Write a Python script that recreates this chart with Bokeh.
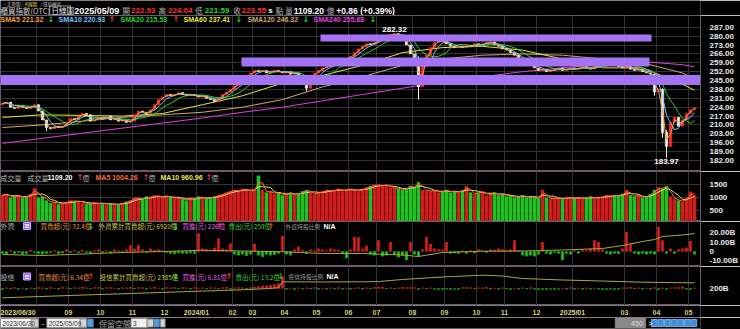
import numpy as np
from bokeh.plotting import figure
from bokeh.layouts import column
from bokeh.models import ColumnDataSource, Range1d, LinearAxis, FixedTicker, Grid
from bokeh.embed import file_html
from bokeh.resources import INLINE

# ======================= DATA =======================
last_date = "2025/05/09"
last_open, last_high, last_low, last_close = 222.93, 224.04, 221.59, 223.55
last_volume = 1109.20
change, change_pct = 0.86, 0.39

first_open = 226.0
close = [
    227, 228, 224, 223, 225.5, 224, 223, 224, 226, 221,
    214, 208, 207, 209, 208, 209, 212, 215, 214, 217,
    219, 218, 213, 214, 216, 215, 217, 214, 215, 213,
    214, 212, 213, 218, 221, 220, 219, 222, 226, 230,
    232, 234, 233, 234, 235.5, 234, 233, 234, 233, 232,
    233, 231, 230, 228.5, 231, 234, 236, 238, 241, 243,
    246, 248, 251, 253, 252, 253, 251, 252, 253, 252,
    251, 252, 250, 251, 249, 244, 239, 246, 251, 253,
    255, 256, 257, 259, 261, 262, 262.5, 264, 267, 270,
    272, 274, 273.5, 275, 278, 280, 281, 281, 282, 281,
    279, 273, 266, 262, 240, 258, 265, 271, 275, 276.5,
    276, 274, 272, 271, 272, 271, 273, 272, 274, 273,
    274, 275, 275.5, 273, 272, 270, 269, 267, 265, 262,
    260, 258, 257, 255, 253, 254, 252, 253, 254, 255,
    253, 254, 255, 254, 255, 256, 255, 254, 256, 257,
    258, 260, 260.5, 258, 256, 255, 256, 254, 253, 254,
    252, 251, 250, 236, 238, 204, 193, 212, 216, 209,
    214, 219, 222, 223.55,
]
# candles whose wicks reach beyond the body
hl_idx = [11, 76, 98, 104, 163, 165, 166]
hl_high = [209, 249, 282.32, 264, 250, 239, 206]
hl_low = [205, 236.5, 279.5, 230, 233, 200, 183.97]

volume = [
    1100, 1150, 1000, 1050, 1100, 1000, 1050, 1150, 1370,
    1000, 1050, 900, 800, 850, 750, 800, 820, 900, 850, 880, 800,
    750, 780, 820, 760, 800, 740, 780, 720, 760, 800, 850, 900,
    1000, 980, 950, 1050, 1000, 1100, 1050, 1000, 1080, 1020, 980, 1000, 950,
    900, 1000, 950, 1050, 1000, 980, 1000, 1050, 1100, 1150, 1200, 1250,
    1300, 1250, 1350, 1300, 1250, 1300, 1850,
    1300, 1200, 1250, 1150, 1200, 1100, 1150, 1200, 1100, 1150, 1250, 1300,
    1200, 1150, 1200, 1250, 1300, 1250,
    1300, 1350, 1250, 1300, 1350, 1300, 1250, 1350, 1400, 1450,
    1500, 1480, 1450, 1500, 1400, 1380,
    1350, 1300, 1380, 1450, 1400, 1600, 1300, 1280,
    1250, 1300, 1200, 1250, 1300, 1200, 1250, 1200, 1300, 1450, 1200,
    1150, 1200, 1250, 1100, 1150, 1200, 1100, 1150, 1050, 1100,
    1000, 1050, 1100, 1000, 1050, 1020, 1000,
    1300, 1000, 950, 980, 1000, 960, 1000, 1020, 980, 1000, 960, 1000, 1050, 980, 1000, 1050,
    1100, 1050, 1100, 1080, 1150, 1300, 1100, 1050, 1100, 1000, 1050, 1150, 1300, 1400, 1350, 1450,
    1050, 950, 900, 850, 1000, 1230, 1109.2,
]

foreign_net = [
    -2, -3, 1, -2, -1, -3, -2, 1.5, -1, -2.5,
    -3, -2, -1, 1, -2, -1.5, 2, -1, 1, -1,
    1.5, -1, -2, 1, 2, -1, 1, -1.5, 2, 1,
    -1, 2, 6.6, 3, 6.5, 2, -1, 3, 1.5, 2,
    1, -1, -2, -2.5, -1.5, -2, -2, -1.5, -2, 19,
    3, 2, 1, 4, 13.7, 3, 2, 8.4, -3, -4,
    -3, -4.5, -3, 8, -4, -5.6, -3, -4, -3.5, -2,
    16.5, -3, -4, 2, 5, 1.5, -2, 2, 1, 3,
    2, 1, 3, 2, 1.5, -2, -7, 2, 15.5, 15,
    3, 6, -3, -4, 12, -5, -4, 10, -3, -6,
    -4, -9, 10, -3, -5, 2, 15.5, 8, 3, 2,
    1.5, 10, -2, -1.5, -2, 1, -2, 1, -1.5, 2,
    1, -1, 2, 1.5, 3, 2, 1, 2, 12, 1,
    -4, -5, -4, -5, -3, 10, -2, -3, -1, -2,
    -9, -2, -3, 1, -2, 2, 1, 3, 12, 10,
    2, -2, -3, -2, -2.5, 3, 20.7, 8, -2, -3,
    -2, -3, -2, -3, 26, 12, -2, 3, -2, 2,
    3, 4, 11, -3,
]
fcum_idx = [0, 10, 20, 30, 40, 50, 60, 70, 80, 90, 100, 104, 110, 120, 130, 140, 150, 155, 160, 163, 165, 170, 173]
fcum_val = [5240, 5160, 5280, 5400, 5480, 5580, 5520, 5460, 5320, 5320, 5200, 5080, 5400, 5500, 5520, 5600, 5720, 5960, 6280, 6440, 6680, 6800, 6920]

inst_net = [
    -1, 0.8, -0.6, 1, -0.8, 0.6, -1, 0.7, -0.5, 1,
    0.8, -0.7, 1, 0.6, -0.8, 1.2, 0.7, -0.6, 1, 0.8,
    1.5, 0.8, -0.6, 1, 1.2, -0.7, 0.9, 1.1, 0.6, -0.8,
    1, 0.7, 1.3, -0.6, 0.9, 1, -0.7, 0.8, 1.2, 0.6,
    -0.8, 1, 0.7, 1.1, -0.6, 0.9, 0.8, -0.7, 1, 0.6,
    0.8, -0.5, 1, 0.7, -0.6, 0.9, 1.2, -0.8, 0.7, 1,
    0.8, -0.6, 1, 1.5, 2, 2.5, 3, 3.5, 4, 5,
    12, -0.8, 0.6, -1, 0.7, -0.6, 0.8, -0.5, 1, -0.7,
    0.6, -0.8, 0.7, -0.6, 1, -0.7, 0.5, -0.8, 0.6, 0.9,
    -0.7, 0.8, -0.6, 1.2, 1.5, 1.4, -0.6, 0.7, -0.5, 0.8,
    1.2, 1, 0.9, 1.1, -1, 0.7, -0.6, 0.8, -0.7, -0.9,
    -1, -0.8, -1.1, -0.7, -0.9, 1, 1.1, 0.9, -0.6, 0.7,
    0.8, 1.2, -0.7, 0.6, -0.8, 0.7, -0.6, -0.9, 0.6, -0.7,
    0.8, -0.6, 1, -0.8, -1, -0.9, -1.1, -0.8, -1, -0.7,
    0.6, -0.8, 1, -0.7, 0.6, -0.9, 0.7, -0.8, 0.6, -0.7,
    -0.9, -1, -0.8, -1.1, -0.9, 0.7, 0.8, 1.2, -0.6, 0.7,
    -0.8, 0.6, -0.7, 1, -1.2, 0.8, -0.9, 0.7, 1, 1.2,
    1.5, -0.8, -1, 0.6,
]
icum_idx = [0, 20, 40, 60, 66, 69, 70, 80, 90, 94, 100, 110, 120, 125, 130, 140, 150, 160, 170, 173]
icum_val = [1372, 1556, 1735, 1914, 1990, 2050, 2452, 2440, 2452, 2470, 2608, 2776, 2898, 2844, 2675, 2574, 2506, 2425, 2392, 2385]

sma_idx = [0, 10, 20, 30, 40, 50, 60, 70, 80, 90, 100, 110, 120, 130, 140, 150, 160, 170, 173]
sma60_val = [216, 218, 217.5, 217, 219, 226, 233, 243, 249, 257, 267, 271, 272, 269, 262, 255, 255, 242, 237.41]
sma120_val = [208, 210, 213, 216, 218, 220, 224, 230, 240, 248, 257, 262, 265, 266, 265, 262, 259, 251, 246.32]
sma240_val = [195.5, 199.5, 203.5, 207.5, 211.5, 215.5, 220, 224, 229, 234, 239, 244, 248, 252, 255, 258, 260, 257.5, 255.88]

sma_names = ["SMA5", "SMA10", "SMA20", "SMA60", "SMA120", "SMA240"]
sma_last = [221.32, 220.93, 215.53, 237.41, 246.32, 255.88]
sma_up = [False, True, True, False, False, False]

vol_ma5_last, vol_ma10_last = 1004.26, 960.96
foreign_legend = [("買賣超(元)", 32.4, "億", False), ("外資累計買賣超(元)", 6920, "億", False),
                  ("買進(元)", 226, "億", True), ("賣出(元)", 258, "億", True)]
inst_legend = [("買賣超(元)", 6.34, "億", True), ("投信累計買賣超(元)", 2385, "億", False),
               ("買進(元)", 6.81, "億", True), ("賣出(元)", 13.2, "億", False)]

# resistance zones (sample index range, price range)
band_start = [79.5, 59.75, -0.5]
band_end = [162.25, 161.75, 174.5]
band_lo = [275.8, 256.1, 241.5]
band_hi = [281.3, 263.2, 249.4]

first_label = "2023/06/30"
month_first_idx = [9, 17, 25, 33, 41, 49, 58, 63, 71, 79, 87, 94, 103, 111, 119, 126, 134, 143, 156, 164, 172]
month_labels = ["", "09", "10", "11", "12", "2024/01", "02", "03", "04", "05", "06", "07", "08", "09",
                "10", "11", "12", "2025/01", "03", "04", "05"]

price_ticks = list(range(182, 288, 7))
vol_ticks = [500, 1000, 1500]
foreign_ticks = [-10, 0, 10, 20]
foreign_tick_labels = ["-10.00B", "0", "10.00B", "20.00B"]
inst_ticks = [2000]
inst_tick_labels = ["200B"]

# ======================= STYLE =======================
BG = "#000000"
LAT = "Liberation Sans"
CJK = "Noto Sans CJK TC"
RED, GREEN = "#ff3030", "#22dd22"
GRAY = "#b8b8b8"
GRID = "#333333"
OUT = "#6b5b6b"
SMA_COLORS = ["#f2a03c", "#6ec6ff", "#2ed12e", "#e6e632", "#d4a46a", "#e040e0"]
BAND = "#a472f5"
CUM = "#a8a83a"

N = len(close)
idx = np.arange(N)
XR = Range1d(-0.5, N + 0.5)
FRAME_W = 700.0


def rolling(a, n):
    a = np.asarray(a, float)
    return np.array([a[max(0, k - n + 1):k + 1].mean() for k in range(len(a))])


def panel(height, yr):
    p = figure(width=740, height=height, x_range=XR, y_range=yr, output_backend="svg",
               toolbar_location=None, tools="", x_axis_location=None, y_axis_location=None,
               min_border_left=0, min_border_right=40, min_border_top=0, min_border_bottom=0,
               background_fill_color=BG, border_fill_color=BG,
               outline_line_color=OUT, outline_line_width=1)
    p.grid.visible = False
    ticks = [m - 0.5 for m in month_first_idx]
    p.add_layout(Grid(dimension=0, ticker=FixedTicker(ticks=ticks), grid_line_color=GRID))
    return p


def right_axis(p, ticks, labels, range_name="default", hgrid=False):
    ax = LinearAxis(y_range_name=range_name, ticker=FixedTicker(ticks=ticks))
    ax.major_label_overrides = {float(t): l for t, l in zip(ticks, labels)}
    ax.major_label_text_font = LAT
    ax.major_label_text_font_style = "bold"
    ax.major_label_text_font_size = "8px"
    ax.major_label_text_color = "#e8e8e8"
    ax.axis_line_color = None
    ax.major_tick_line_color = None
    ax.minor_tick_line_color = None
    ax.major_label_standoff = 3
    p.add_layout(ax, "right")
    if hgrid:
        p.add_layout(Grid(dimension=1, ticker=FixedTicker(ticks=ticks), grid_line_color=GRID,
                          y_range_name=range_name))


def texts(p, items, x_of, y_val):
    d = dict(x=[], y=[], t=[], c=[], s=[], st=[], f=[])
    for px, t, col, size, style, font in items:
        d["x"].append(x_of(px)); d["y"].append(y_val); d["t"].append(t); d["c"].append(col)
        d["s"].append(size); d["st"].append(style); d["f"].append(font)
    p.text(x="x", y="y", text="t", text_color="c", text_font_size="s", text_font_style="st",
           text_font="f", text_baseline="middle", text_align="left", source=ColumnDataSource(d))


def px_x(px):
    return XR.start + px * (XR.end - XR.start) / FRAME_W


def py_y(yr, h, py):
    return yr.end - py * (yr.end - yr.start) / h


def arrow(up):
    return ("↑", RED) if up else ("↓", GREEN)


# ======================= HEADER =======================
hdr = figure(width=740, height=15, x_range=Range1d(0, 740), y_range=Range1d(15, 0),
             output_backend="svg", toolbar_location=None, tools="", x_axis_location=None,
             y_axis_location=None, min_border=0, background_fill_color=BG,
             border_fill_color=BG, outline_line_color=None)
hdr.grid.visible = False
hdr.text(x=[2, 26, 42], y=[0.3, 0.3, 0.3], text=["‧走勢圖 /", "K線圖", "/ 還原權值"],
         text_color=["#bdbdbd", "#e8d84a", "#bdbdbd"], text_font_size="4.5px",
         text_baseline="top", text_font={"value": CJK})
hdr.quad(left=[52], right=[74], top=[5.5], bottom=[14.5], fill_color=None, line_color="#9a9a9a",
         line_width=1)
hitems = [
    (0, "櫃買指數(OTC)", "#cfcfcf", "7.5px", "normal", CJK),
    (54, "日線圖", "#e6e6e6", "7.5px", "normal", CJK),
    (78, last_date, "#ffffff", "9px", "bold", LAT),
    (129, "開", GRAY, "7.5px", "normal", CJK),
    (138, f"{last_open:.2f}", RED, "8px", "bold", LAT),
    (167, "高", GRAY, "7.5px", "normal", CJK),
    (177, f"{last_high:.2f}", RED, "8px", "bold", LAT),
    (206, "低", GRAY, "7.5px", "normal", CJK),
    (216, f"{last_low:.2f}", GREEN, "8px", "bold", LAT),
    (246, "收", GRAY, "7.5px", "normal", CJK),
    (255, f"{last_close:.2f}", RED, "8px", "bold", LAT),
    (283, "s", "#ffffff", "8px", "bold", LAT),
    (291, "點", GRAY, "7.5px", "normal", CJK),
    (301, "量", GRAY, "7.5px", "normal", CJK),
    (310, f"{last_volume:.2f}", "#ffffff", "8.5px", "bold", LAT),
    (345, "億", GRAY, "7.5px", "normal", CJK),
    (355, f"+{change:.2f} (+{change_pct:.2f}%)", "#ffffff", "8.5px", "bold", LAT),
]
texts(hdr, hitems, lambda v: v, 10)

# ======================= MAIN PRICE PANEL =======================
H_MAIN = 156
yr_main = Range1d(173.3, 296.3)
pm = panel(H_MAIN, yr_main)
right_axis(pm, price_ticks, [f"{t:.2f}" for t in price_ticks], hgrid=True)

c = np.array(close, float)
o = np.array([first_open] + close[:-1], float)
hi = np.maximum(o, c)
lo = np.minimum(o, c)
for k, h_, l_ in zip(hl_idx, hl_high, hl_low):
    hi[k] = max(hi[k], h_)
    lo[k] = min(lo[k], l_)
up = c >= o
ccol = ["#ff2b2b" if u else "#f2f2f2" for u in up]
cs = ColumnDataSource(dict(x=idx, top=np.maximum(o, c), bottom=np.minimum(o, c), hi=hi, lo=lo, col=ccol))

# long-term averages
pm.line(sma_idx, sma240_val, line_color=SMA_COLORS[5], line_width=1)
pm.line(sma_idx, sma120_val, line_color=SMA_COLORS[4], line_width=1)
pm.line(sma_idx, sma60_val, line_color=SMA_COLORS[3], line_width=1)
pm.segment(x0="x", y0="lo", x1="x", y1="hi", line_color="col", line_width=1, source=cs)
pm.vbar(x="x", width=0.62, top="top", bottom="bottom", fill_color="col", line_color="col",
        line_width=0.5, source=cs)
pm.line(idx, rolling(close, 8), line_color=SMA_COLORS[2], line_width=1)
pm.line(idx, rolling(close, 4), line_color=SMA_COLORS[1], line_width=1)
pm.line(idx, rolling(close, 2), line_color=SMA_COLORS[0], line_width=1)

pm.quad(left=band_start, right=band_end, bottom=band_lo, top=band_hi, fill_color=BAND,
        line_color=None)

k_hi = int(np.argmax(hi))
k_lo = int(np.argmin(lo))
pm.text(x=[k_hi], y=[hi[k_hi]], text=[f"{hi[k_hi]:.2f}"], text_color="#ffffff", text_font_size="8px",
        text_font_style="bold", text_font={"value": LAT}, text_align="center",
        text_baseline="bottom", y_offset=-1)
pm.text(x=[k_lo], y=[lo[k_lo]], text=[f"{lo[k_lo]:.2f}"], text_color="#ffffff", text_font_size="8px",
        text_font_style="bold", text_font={"value": LAT}, text_align="center",
        text_baseline="top", y_offset=1)

sma_x = [0, 58, 120, 183, 247, 313]
sma_ax = [47, 108, 172, 235, 302, 369]
items = []
for nm, v, u, col, x0, xa in zip(sma_names, sma_last, sma_up, SMA_COLORS, sma_x, sma_ax):
    items.append((x0, f"{nm} {v:.2f}", col, "7px", "bold", LAT))
    a, ac = arrow(u)
    items.append((xa, a, ac, "8px", "bold", "DejaVu Sans"))
texts(pm, items, px_x, py_y(yr_main, H_MAIN, 4))

# ======================= VOLUME PANEL =======================
H_VOL = 50
yr_vol = Range1d(88, 2011)
pv = panel(H_VOL, yr_vol)
right_axis(pv, vol_ticks, [str(t) for t in vol_ticks], hgrid=True)
vcol = ["#d41c1c" if u else "#1fc21f" for u in up]
pv.vbar(x=idx, width=0.82, top=volume, bottom=0, fill_color=vcol, line_color=vcol, line_width=0.3)
pv.line(idx, rolling(volume, 4), line_color="#e6e65a", line_width=1)
pv.line(idx, rolling(volume, 2), line_color="#ff6a3d", line_width=1)
vitems = [
    (0, "成交量", GRAY, "7px", "normal", CJK),
    (27, "成交量", GRAY, "7px", "normal", CJK),
    (47, f"{volume[-1]:.2f}", "#ffffff", "7px", "bold", LAT),
    (76, "↑", RED, "8px", "bold", "DejaVu Sans"),
    (82, "億", GRAY, "7px", "normal", CJK),
    (95, f"MA5 {vol_ma5_last:.2f}", "#ff6a3d", "7px", "bold", LAT),
    (142, "↑", RED, "8px", "bold", "DejaVu Sans"),
    (148, "億", GRAY, "7px", "normal", CJK),
    (160, f"MA10 {vol_ma10_last:.2f}", "#e6e65a", "7px", "bold", LAT),
    (205, "↑", RED, "8px", "bold", "DejaVu Sans"),
    (211, "億", GRAY, "7px", "normal", CJK),
]
texts(pv, vitems, px_x, py_y(yr_vol, H_VOL, 6))


# ======================= FLOW PANELS =======================
def flow_panel(height, yr, cum_range, net, cum_i, cum_v, ticks, tlabels, axis_on_cum, name,
               legend, leg_py, leg_x, hold_x):
    p = panel(height, yr)
    p.extra_y_ranges = {"cum": cum_range}
    if axis_on_cum:
        right_axis(p, ticks, tlabels, range_name="cum")
    else:
        right_axis(p, ticks, tlabels)
    col = ["#e01e1e" if v >= 0 else "#1ec81e" for v in net]
    p.vbar(x=idx, width=0.6, top=net, bottom=0, fill_color=col, line_color=col, line_width=0.3)
    p.line(cum_i, cum_v, line_color=CUM, line_width=1, y_range_name="cum")
    lcol = ["#e8903c", "#c8c850", "#e060e0", "#3ccf3c"]
    its = [(0, name, GRAY, "7px", "normal", CJK), (23.5, "≡", "#ffffff", "7px", "bold", "DejaVu Sans")]
    for (lab, v, unit, u), cc, (x0, xa) in zip(legend, lcol, leg_x):
        its.append((x0, f"{lab} {v:g}{unit}", cc, "6.5px", "normal", CJK))
        a, ac = arrow(u)
        its.append((xa, a, ac, "8px", "bold", "DejaVu Sans"))
    its.append((hold_x[0], name + "持股比例", "#9a9a9a", "5.8px", "normal", CJK))
    its.append((hold_x[1], "N/A", "#ffffff", "7px", "bold", LAT))
    y0 = py_y(yr, height, leg_py)
    p.rect(x=[px_x(26.5)], y=[y0], width=px_x(7) - px_x(0), height=(yr.end - yr.start) * 7 / height,
           fill_color="#9a5cf0", line_color="#c8a8ff")
    texts(p, its, px_x, y0)
    return p


H_F = 45
yr_f = Range1d(-15.9, 31.8)
pf = flow_panel(H_F, yr_f, Range1d(4280, 7880), foreign_net, fcum_idx, fcum_val,
                foreign_ticks, foreign_tick_labels, False, "外資", foreign_legend, 4.5,
                [(40, 87), (98, 172), (182, 215), (228, 267)], (285, 323))

H_I = 39
yr_i = Range1d(-17, 22)
pi = flow_panel(H_I, yr_i, Range1d(852.5, 3485), inst_net, icum_idx, icum_val,
                inst_ticks, inst_tick_labels, True, "投信", inst_legend, 10,
                [(38, 87), (99, 172), (182, 225), (235, 277)], (288, 326))

# ======================= X LABELS =======================
H_X = 12
px_lab = figure(width=740, height=H_X, x_range=XR, y_range=Range1d(0, 1), output_backend="svg",
                toolbar_location=None, tools="", x_axis_location=None, y_axis_location=None,
                min_border_left=0, min_border_right=40, min_border_top=0, min_border_bottom=0,
                background_fill_color=BG, border_fill_color=BG, outline_line_color=None)
px_lab.grid.visible = False
lx = [XR.start] + [m - 0.5 for m, l in zip(month_first_idx, month_labels) if l]
lt = [first_label] + [l for l in month_labels if l]
la = ["left"] + ["center"] * (len(lt) - 1)
lc = ["#dcdc80" if "/" in t else "#d2d27a" for t in lt]
px_lab.text(x=lx, y=[0.45] * len(lx), text=lt, text_align=la, text_color=lc,
            text_font_size="7px", text_font_style="bold", text_font={"value": LAT},
            text_baseline="middle")

# ======================= BOTTOM TOOL ROW =======================
tool = figure(width=740, height=12, x_range=Range1d(0, 740), y_range=Range1d(12, 0),
              output_backend="svg", toolbar_location=None, tools="", x_axis_location=None,
              y_axis_location=None, min_border=0, background_fill_color=BG,
              border_fill_color=BG, outline_line_color=None)
tool.grid.visible = False
tool.quad(left=[0, 49, 138], right=[40, 91, 155], top=[1, 1, 1], bottom=[10, 10, 10],
          fill_color="#f2f2f2", line_color="#8c8c8c")
tool.quad(left=[33, 84, 155, 169], right=[40, 91, 162, 174], top=[1.5] * 4, bottom=[9.5] * 4,
          fill_color="#d4d4d4", line_color="#8c8c8c")
tool.quad(left=[92, 162], right=[98, 168], top=[1.5, 1.5], bottom=[9.5, 9.5],
          fill_color="#5b9bd5", line_color="#3a78b8")
tool.quad(left=[650], right=[682], top=[1], bottom=[10], fill_color="#8a8a8a", line_color="#8a8a8a")
icon_x = [688, 695, 702, 709, 716, 723, 730]
tool.quad(left=icon_x, right=[v + 6 for v in icon_x], top=[2] * 7, bottom=[9] * 7,
          fill_color="#3d8fd8", line_color="#6fb0ee")
tool.quad(left=[0], right=[740], top=[11], bottom=[12], fill_color="#b8b8b8", line_color=None)
tool.text(x=[2, 51, 140, 44], y=[5.5] * 4, text=[first_label, last_date, "3", "-"],
          text_color=["#333333", "#333333", "#333333", "#ffffff"], text_font_size="6.5px",
          text_font={"value": LAT}, text_baseline="middle")
tool.text(x=[104], y=[5.5], text=["保留空間"], text_color="#a8a8a8", text_font_size="8px",
          text_font={"value": CJK}, text_baseline="middle")
tool.text(x=[679, 685], y=[5.5, 5.5], text=["450", ">"], text_align=["right", "left"],
          text_color=["#dedede", "#ffffff"], text_font_size="7px", text_font={"value": LAT},
          text_baseline="middle")

layout = column(hdr, pm, pv, pf, pi, px_lab, tool, spacing=0)
open("out.html", "w").write(file_html(layout, INLINE))
